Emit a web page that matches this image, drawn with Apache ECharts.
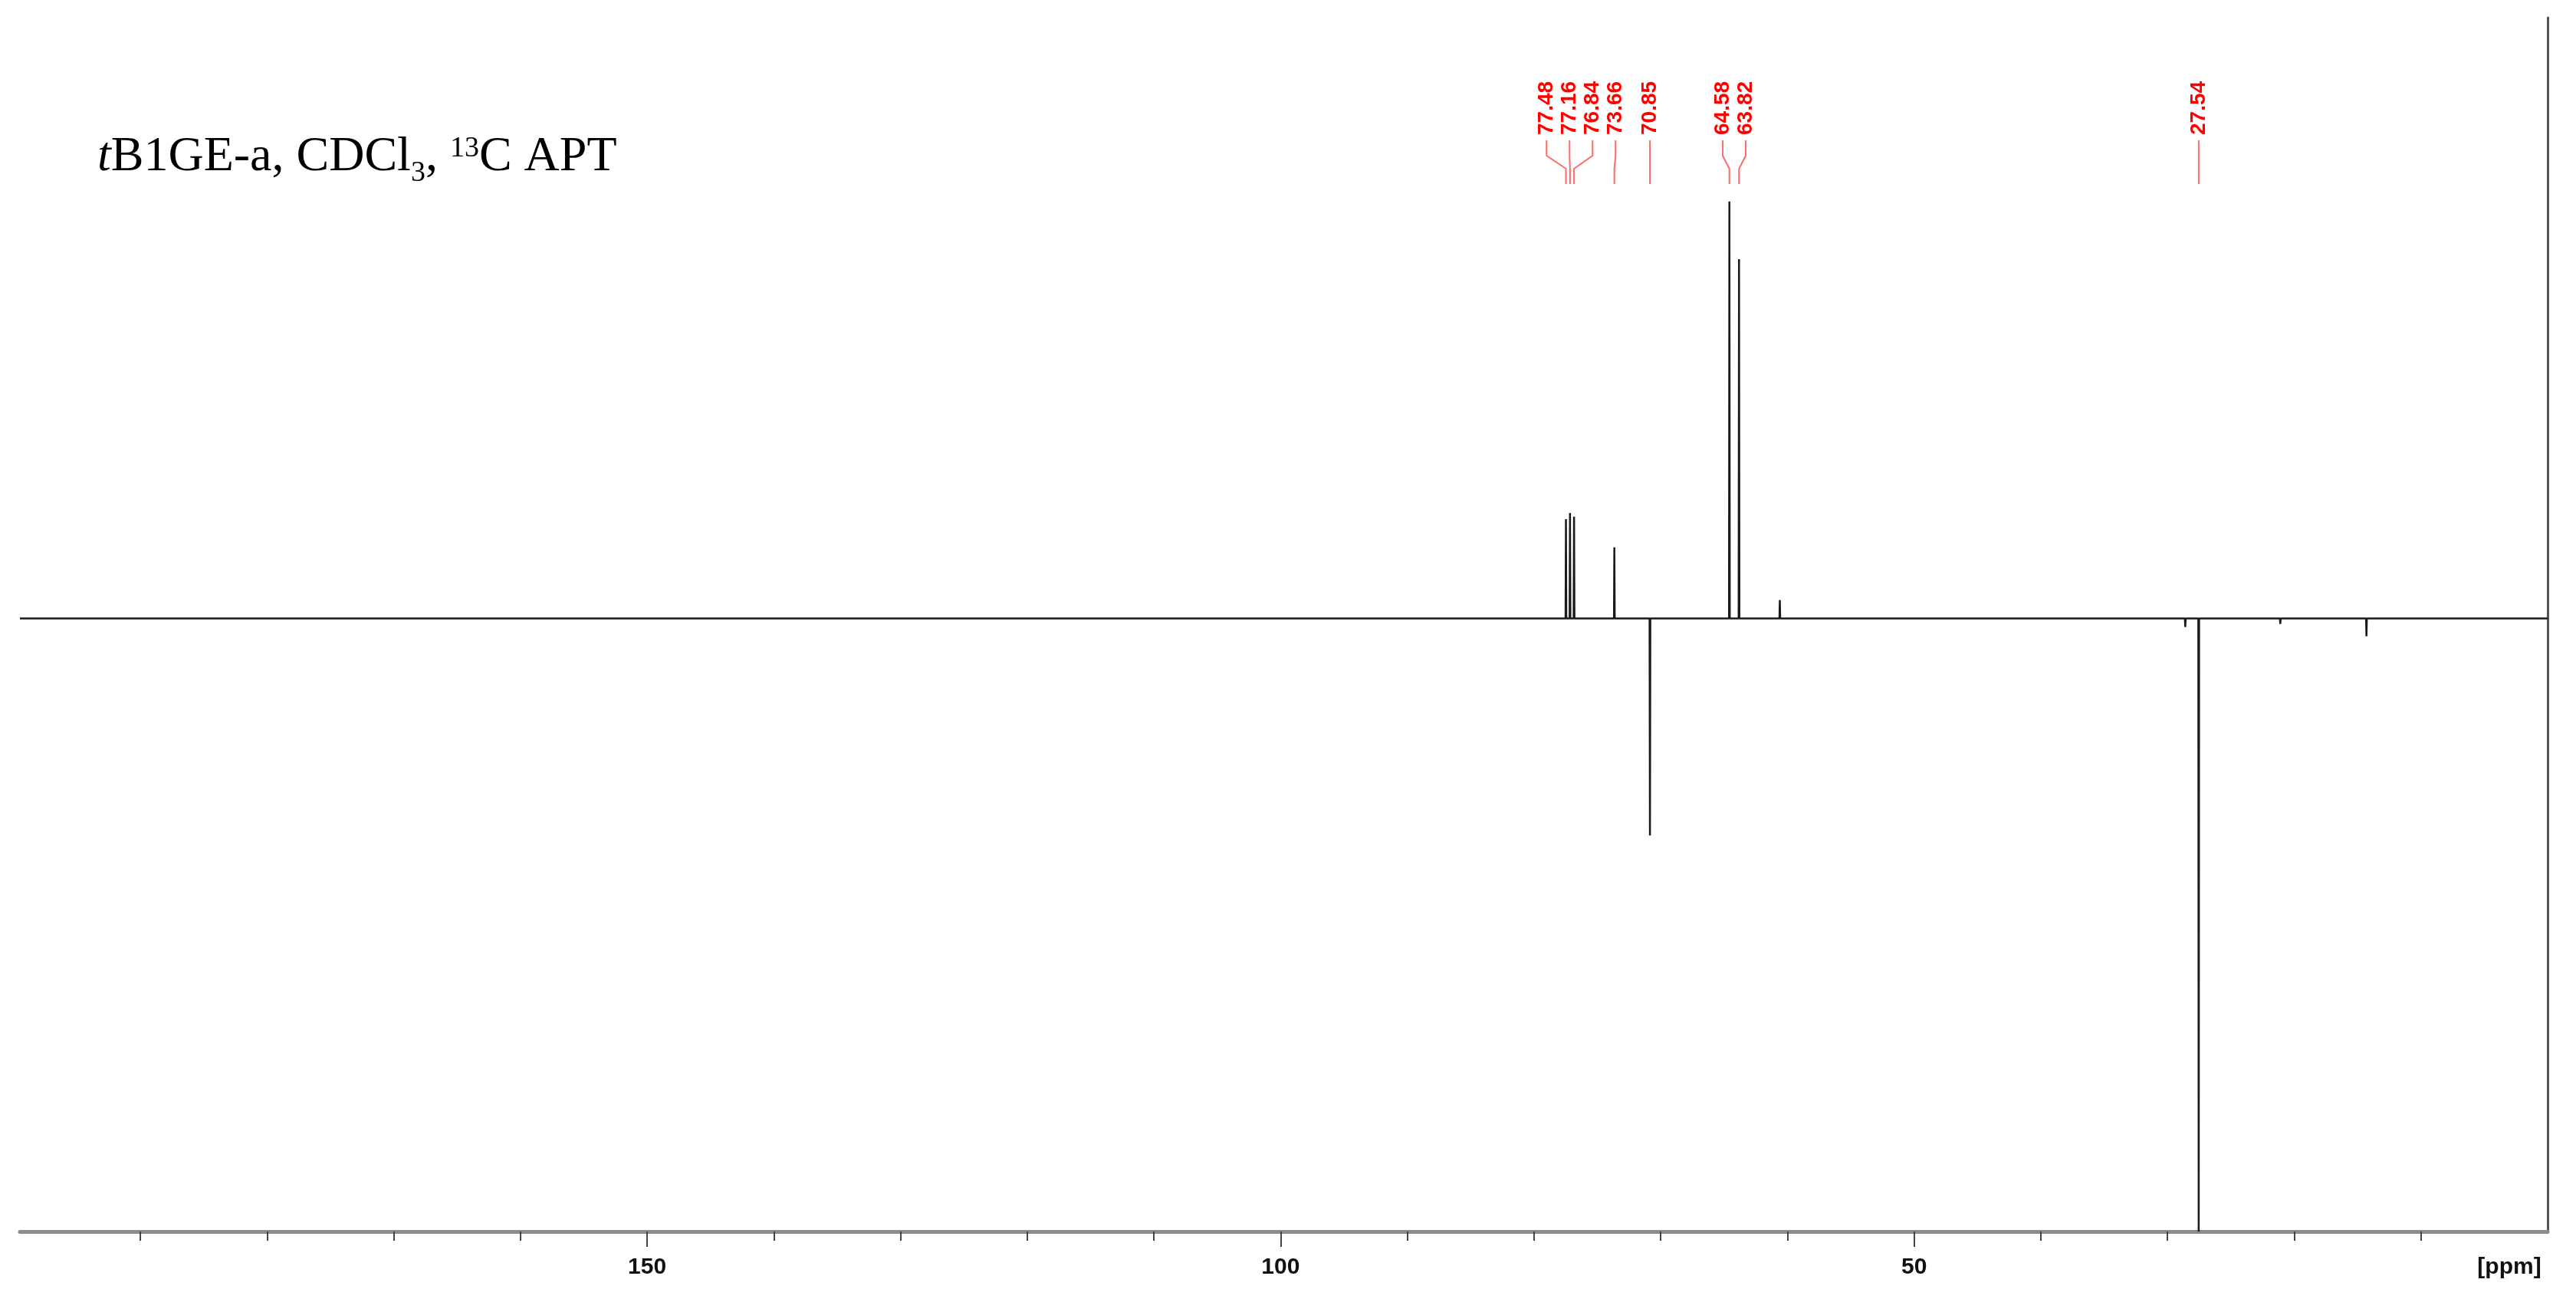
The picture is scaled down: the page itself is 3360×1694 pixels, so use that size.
<!DOCTYPE html>
<html>
<head>
<meta charset="utf-8">
<title>tB1GE-a 13C APT</title>
<script src="https://cdn.jsdelivr.net/npm/echarts@6/dist/echarts.min.js"></script>
<style>
  html, body { margin: 0; padding: 0; background: #fff; }
  #chart { width: 3360px; height: 1694px; }
</style>
</head>
<body>
<div id="chart"></div>
<script>
// peak list (ppm, relative intensity, 27.54 = -100)
const peakPpm = [77.48, 77.16, 76.84, 73.66, 70.85, 64.58, 63.82, 60.6, 28.6, 27.54, 21.1, 14.3];
const peakIntensity = [16.2, 17.2, 16.6, 11.6, -35.4, 68.0, 58.6, 3.0, -1.4, -100, -0.9, -2.9];
// picked peaks shown in red at the top
const labelPpm = [77.48, 77.16, 76.84, 73.66, 70.85, 64.58, 63.82, 27.54];
const labelText = ["77.48", "77.16", "76.84", "73.66", "70.85", "64.58", "63.82", "27.54"];
const tickLabels = [150, 100, 50];
const ppmMax = 199.5;
const ppmMin = 0;

// stick spectrum -> line points
const spectrum = [[ppmMax, 0]];
peakPpm.forEach((p, i) => {
  spectrum.push([p + 0.03, 0], [p, peakIntensity[i]], [p - 0.03, 0]);
});
spectrum.push([ppmMin, 0]);

// spread labels so they do not overlap (pixel gap), centred on their peaks
function spreadLabels(xs, gap) {
  let groups = xs.map((x) => ({ n: 1, sum: x }));
  let merged = true;
  while (merged) {
    merged = false;
    for (let g = 0; g < groups.length - 1; g++) {
      const a = groups[g], b = groups[g + 1];
      const aEnd = a.sum / a.n + ((a.n - 1) * gap) / 2;
      const bStart = b.sum / b.n - ((b.n - 1) * gap) / 2;
      if (bStart - aEnd < gap) {
        groups.splice(g, 2, { n: a.n + b.n, sum: a.sum + b.sum });
        merged = true;
        break;
      }
    }
  }
  const out = [];
  groups.forEach((gr) => {
    const start = gr.sum / gr.n - ((gr.n - 1) * gap) / 2;
    for (let k = 0; k < gr.n; k++) out.push(start + k * gap);
  });
  return out;
}

const myChart = echarts.init(document.getElementById("chart"));
myChart.setOption({
  animation: false,
  backgroundColor: "#ffffff",
  title: {
    left: 122,
    top: 160,
    text: "{it|t}B1GE-a, CDCl{sub|3}, {sup|13}C APT",
    textStyle: {
      fontFamily: "Liberation Serif",
      fontSize: 64,
      fontWeight: "normal",
      color: "#000",
      lineHeight: 80,
      rich: {
        it: { fontFamily: "Liberation Serif", fontStyle: "italic", fontSize: 64, lineHeight: 80, color: "#000" },
        sub: { fontFamily: "Liberation Serif", fontSize: 38, lineHeight: 38, verticalAlign: "bottom", color: "#000" },
        sup: { fontFamily: "Liberation Serif", fontSize: 38, lineHeight: 38, verticalAlign: "top", padding: [10, 0, 0, 0], color: "#000" },
      },
    },
  },
  grid: {
    left: 26,
    right: 37,
    top: 23,
    bottom: 88,
  },
  xAxis: {
    type: "value",
    inverse: true,
    min: ppmMin,
    max: ppmMax,
    interval: 50,
    splitLine: { show: false },
    axisLine: {
      onZero: false,
      lineStyle: { color: "#8c8c8c", width: 5 },
    },
    axisTick: {
      customValues: tickLabels,
      length: 20,
      lineStyle: { color: "#444", width: 2 },
    },
    minorTick: {
      show: true,
      splitNumber: 5,
      length: 12,
      lineStyle: { color: "#444", width: 2 },
    },
    axisLabel: {
      customValues: tickLabels.concat([ppmMin]),
      margin: 32,
      fontFamily: "Liberation Sans",
      fontWeight: "bold",
      fontSize: 30,
      color: "#111",
      formatter: (v) => (v === ppmMin ? "{p|[ppm]}" : String(v)),
      rich: {
        p: { fontFamily: "Liberation Sans", fontWeight: "bold", fontSize: 30, color: "#111", padding: [0, 100, 0, 0] },
      },
    },
  },
  yAxis: {
    type: "value",
    position: "right",
    min: -100,
    max: 98,
    splitLine: { show: false },
    axisLine: {
      show: true,
      onZero: false,
      lineStyle: { color: "#555", width: 3 },
    },
    axisTick: { show: false },
    axisLabel: { show: false },
  },
  series: [
    {
      name: "APT",
      type: "line",
      data: spectrum,
      symbol: "none",
      clip: true,
      lineStyle: { color: "#1a1a1a", width: 2.5 },
    },
    {
      name: "peaks",
      type: "custom",
      data: labelPpm.map((p) => [p, 0]),
      clip: false,
      renderItem: (params, api) => {
        const top = params.coordSys.y;
        const peakX = labelPpm.map((p) => api.coord([p, 0])[0]);
        const labelX = spreadLabels(peakX, 30);
        const i = params.dataIndex;
        const lx = labelX[i];
        const px = peakX[i];
        return {
          type: "group",
          children: [
            {
              type: "text",
              x: lx,
              y: top + 153,
              rotation: Math.PI / 2,
              style: {
                text: labelText[i],
                fill: "#ff0000",
                font: "bold 28px 'Liberation Sans'",
                align: "left",
                verticalAlign: "middle",
              },
            },
            {
              type: "polyline",
              shape: {
                points: [
                  [lx, top + 160],
                  [lx, top + 180],
                  [px, top + 197],
                  [px, top + 217],
                ],
              },
              style: { stroke: "#ff6a6a", lineWidth: 2, fill: null },
            },
          ],
        };
      },
    },
  ],
});
</script>
</body>
</html>
